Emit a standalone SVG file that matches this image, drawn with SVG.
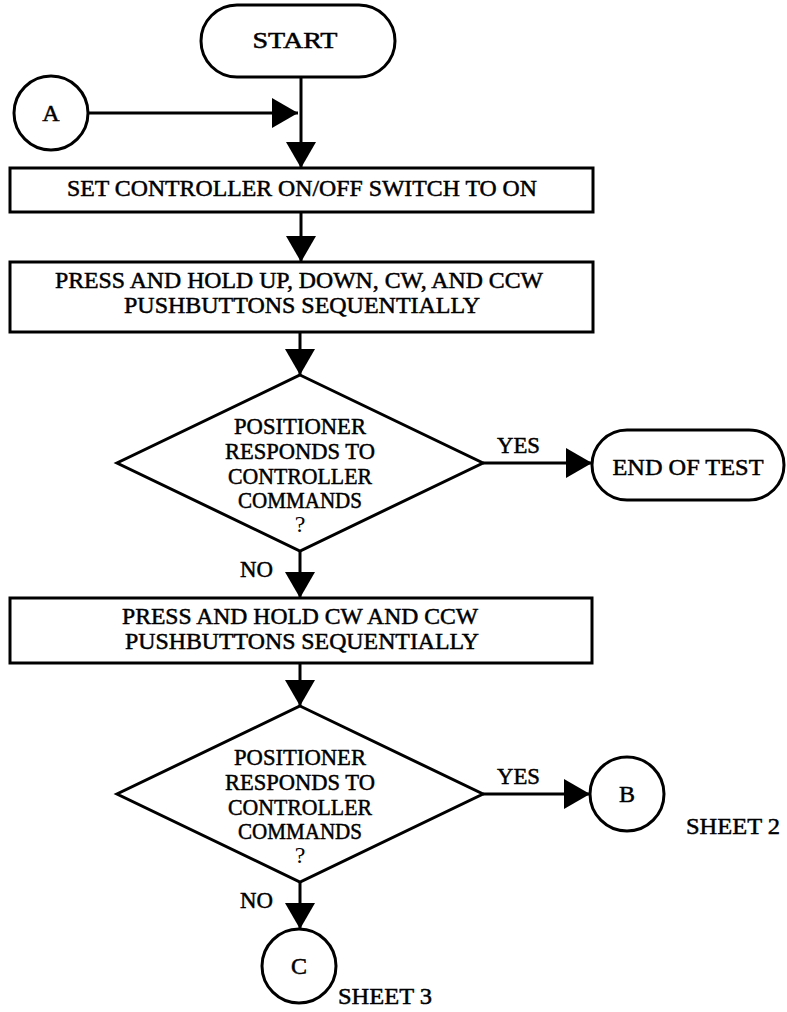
<svg xmlns="http://www.w3.org/2000/svg" width="787" height="1012" viewBox="0 0 787 1012">
<style>
.s{fill:#fff;stroke:#000;stroke-width:3}
.c{fill:none;stroke:#000;stroke-width:3}
.t{font-family:"Liberation Serif","Times New Roman",serif;font-size:24px;fill:#000;stroke:#000;stroke-width:0.5;text-anchor:middle}
.l{font-family:"Liberation Serif","Times New Roman",serif;font-size:24px;fill:#000;stroke:#000;stroke-width:0.5;text-anchor:start}
</style>
<defs>
<marker id="ah" viewBox="0 0 26 30" refX="26" refY="15" markerWidth="26" markerHeight="30" markerUnits="userSpaceOnUse" orient="auto">
<path d="M0,0 L26,15 L0,30 Z" fill="#000"/>
</marker>
</defs>
<rect width="787" height="1012" fill="#fff"/>
<g id="connectors" class="c">
<path d="M301,77 V168" marker-end="url(#ah)"/>
<path d="M88,113 H298" marker-end="url(#ah)"/>
<path d="M301,212 V262" marker-end="url(#ah)"/>
<path d="M300,332 V375" marker-end="url(#ah)"/>
<path d="M483,463 H592" marker-end="url(#ah)"/>
<path d="M300,551 V598" marker-end="url(#ah)"/>
<path d="M300,663 V706" marker-end="url(#ah)"/>
<path d="M483,794 H590" marker-end="url(#ah)"/>
<path d="M300,882 V929" marker-end="url(#ah)"/>
</g>
<g id="labels">
<text class="l" x="497" y="453" textLength="43" lengthAdjust="spacingAndGlyphs">YES</text>
<text class="l" x="240" y="577" textLength="33" lengthAdjust="spacingAndGlyphs">NO</text>
<text class="l" x="497" y="784" textLength="43" lengthAdjust="spacingAndGlyphs">YES</text>
<text class="l" x="240" y="908" textLength="33" lengthAdjust="spacingAndGlyphs">NO</text>
</g>
<g id="start">
<rect class="s" x="201" y="5" width="194" height="72" rx="36"/>
<text class="t" x="295" y="48" textLength="85" lengthAdjust="spacingAndGlyphs">START</text>
</g>
<g id="connA">
<circle class="s" cx="51" cy="113" r="37"/>
<text class="t" x="51" y="121">A</text>
</g>
<g id="box1">
<rect class="s" x="10" y="168" width="583" height="44"/>
<text class="t" x="302" y="196" textLength="470" lengthAdjust="spacingAndGlyphs">SET CONTROLLER ON/OFF SWITCH TO ON</text>
</g>
<g id="box2">
<rect class="s" x="10" y="262" width="583" height="70"/>
<text class="t" x="299" y="288" textLength="488" lengthAdjust="spacingAndGlyphs">PRESS AND HOLD UP, DOWN, CW, AND CCW</text>
<text class="t" x="302" y="313" textLength="356" lengthAdjust="spacingAndGlyphs">PUSHBUTTONS SEQUENTIALLY</text>
</g>
<g id="dec1">
<polygon class="s" points="300,375 483,463 300,551 117,463"/>
<text class="t" x="300" y="434" textLength="132" lengthAdjust="spacingAndGlyphs">POSITIONER</text>
<text class="t" x="300" y="459" textLength="150" lengthAdjust="spacingAndGlyphs">RESPONDS TO</text>
<text class="t" x="300" y="484" textLength="144" lengthAdjust="spacingAndGlyphs">CONTROLLER</text>
<text class="t" x="300" y="508" textLength="124" lengthAdjust="spacingAndGlyphs">COMMANDS</text>
<text class="t" x="300" y="532" style="stroke-width:0">?</text>
</g>
<g id="end">
<rect class="s" x="592" y="430" width="192" height="70" rx="35"/>
<text class="t" x="688" y="475" textLength="151" lengthAdjust="spacingAndGlyphs">END OF TEST</text>
</g>
<g id="box3">
<rect class="s" x="10" y="598" width="582" height="65"/>
<text class="t" x="300" y="624" textLength="356" lengthAdjust="spacingAndGlyphs">PRESS AND HOLD CW AND CCW</text>
<text class="t" x="302" y="649" textLength="354" lengthAdjust="spacingAndGlyphs">PUSHBUTTONS SEQUENTIALLY</text>
</g>
<g id="dec2">
<polygon class="s" points="300,706 483,794 300,882 117,794"/>
<text class="t" x="300" y="765" textLength="132" lengthAdjust="spacingAndGlyphs">POSITIONER</text>
<text class="t" x="300" y="790" textLength="150" lengthAdjust="spacingAndGlyphs">RESPONDS TO</text>
<text class="t" x="300" y="815" textLength="144" lengthAdjust="spacingAndGlyphs">CONTROLLER</text>
<text class="t" x="300" y="839" textLength="124" lengthAdjust="spacingAndGlyphs">COMMANDS</text>
<text class="t" x="300" y="863" style="stroke-width:0">?</text>
</g>
<g id="connB">
<circle class="s" cx="627" cy="794" r="37"/>
<text class="t" x="627" y="802">B</text>
<text class="l" x="686" y="834" textLength="94" lengthAdjust="spacingAndGlyphs">SHEET 2</text>
</g>
<g id="connC">
<circle class="s" cx="299" cy="966" r="37"/>
<text class="t" x="299" y="974">C</text>
<text class="l" x="338" y="1004" textLength="94" lengthAdjust="spacingAndGlyphs">SHEET 3</text>
</g>
</svg>
